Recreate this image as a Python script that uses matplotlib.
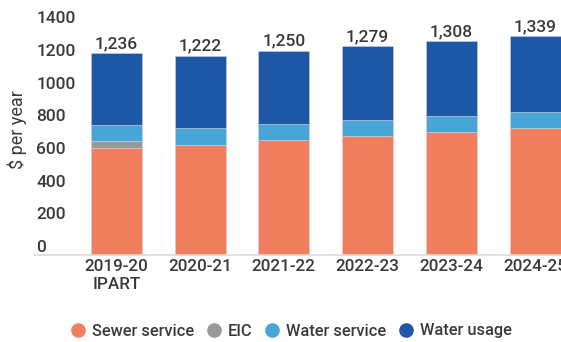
import numpy as np
import matplotlib
matplotlib.use('Agg')
import matplotlib.pyplot as plt
from matplotlib.lines import Line2D

plt.rcParams['font.family'] = ['Roboto', 'DejaVu Sans']

years = ['2019-20\nIPART', '2020-21', '2021-22', '2022-23', '2023-24', '2024-25']
sewer_service = [657, 676, 703, 729, 755, 780]
eic = [40, 0, 0, 0, 0, 0]
water_service = [98, 104, 98, 98, 97, 96]
water_usage = [441, 442, 449, 452, 456, 463]
totals = [1236, 1222, 1250, 1279, 1308, 1339]

series = [('Sewer service', sewer_service, '#F27E60'),
          ('EIC', eic, '#999999'),
          ('Water service', water_service, '#48A5D8'),
          ('Water usage', water_usage, '#1E57A6')]

text_col = '#3a3a3a'

fig = plt.figure(figsize=(5.61, 3.42), dpi=100)
ax = fig.add_axes([35/561, 1 - 255/342, 527/561, 255/342])

x = np.arange(len(years))
bottom = np.zeros(len(years))
for name, vals, col in series:
    vals = np.array(vals, dtype=float)
    ax.bar(x, vals, width=0.61, bottom=bottom, color=col,
           edgecolor='#d0d0d0', linewidth=0.4, label=name)
    bottom += vals

for xi, top, tot in zip(x, bottom, totals):
    ax.annotate(f'{tot:,}', (xi, top), xytext=(0, 1.5), textcoords='offset points',
                ha='center', va='bottom', fontsize=12.5, color=text_col,
                fontweight='medium')

ax.set_xlim(-0.97, 5.32)
ax.set_ylim(0, 1562)
ax.set_xticks(x)
ax.set_xticklabels(years, fontsize=12.3, color=text_col, fontweight='medium',
                   linespacing=1.2)
ax.tick_params(axis='x', length=0, pad=3)

yt = np.arange(0, 1401, 200)
ax.set_yticks(yt)
ax.set_yticklabels([str(v) for v in yt], fontsize=12.5, color=text_col,
                   fontweight='medium')
ax.tick_params(axis='y', length=0, pad=-1)
for lab in ax.get_yticklabels():
    lab.set_horizontalalignment('left')
    lab.set_verticalalignment('bottom')

for s in ['top', 'right', 'left']:
    ax.spines[s].set_visible(False)
ax.spines['bottom'].set_color('#dcdcdc')
ax.spines['bottom'].set_linewidth(1.2)

fig.text(17/561, 1 - 130/342, '$ per year', rotation=90, ha='center', va='center',
         fontsize=13, color=text_col)

handles = [Line2D([], [], marker='o', linestyle='none', markersize=9.5,
                  markerfacecolor=col, markeredgecolor=col, label=name)
           for name, vals, col in series]
fig.legend(handles=handles, loc='center', bbox_to_anchor=(291/561, 1 - 331/342),
           ncol=4, frameon=False, handlelength=1.0, handletextpad=0.35,
           columnspacing=0.7, labelcolor=text_col,
           prop={'size': 11.8, 'weight': 'medium'})

fig.savefig('out.png', dpi=100)
